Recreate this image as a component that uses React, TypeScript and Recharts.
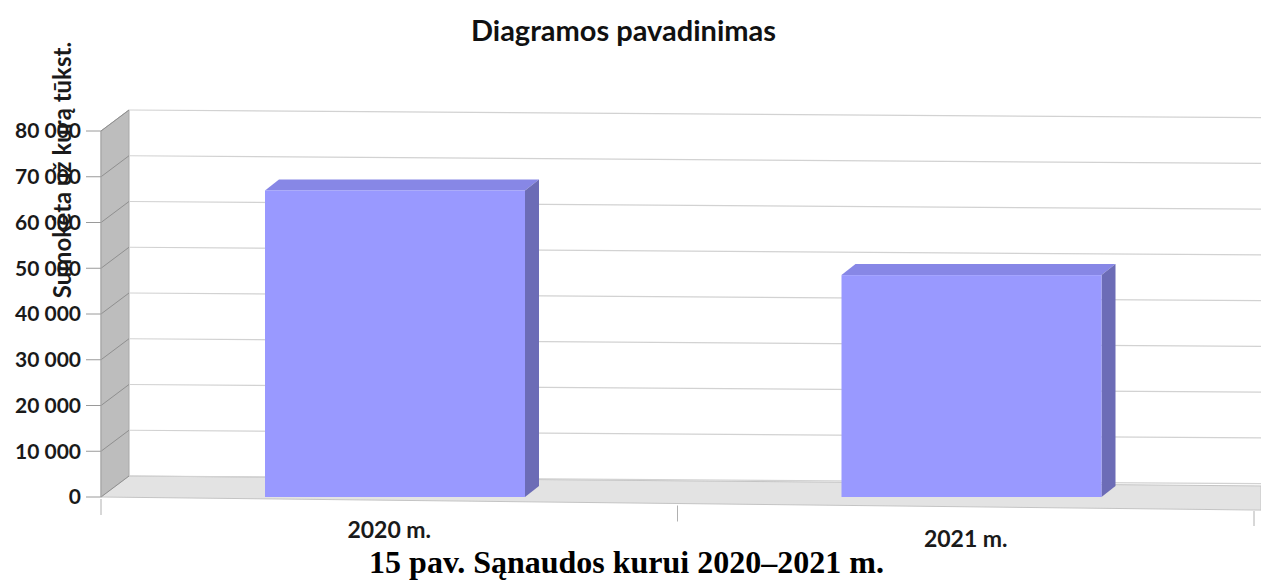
import React from 'react';
import { Bar, BarChart, ReferenceArea, ReferenceLine, XAxis, YAxis } from 'recharts';

// data
const years = ['2020 m.', '2021 m.'];
const spent = [67000, 48500];
const yTicks = [0, 10000, 20000, 30000, 40000, 50000, 60000, 70000, 80000];

const data = years.map((year, i) => ({ year, value: spent[i] }));

const W = 1261;
const H = 580;
const FONT = 'Lato, "Open Sans", sans-serif';

// pseudo-3D depth of the walls and of the bars
const WALL_DX = 28;
const WALL_DY = -21;
const BAR_DX = 14;
const BAR_DY = -11;
const BAR_SHIFT = 6; // bars stand a little into the depth
const RIGHT_EXTRA = 7;

const fmt = (v: number) => String(v).replace(/\B(?=(\d{3})+(?!\d))/g, ' ');

function Walls(props: any) {
  const { x, y, width, height } = props;
  const bottom = y + height;
  const right = x + width + RIGHT_EXTRA;
  const backBottom = bottom + WALL_DY;
  const backRightY = backBottom + 0.0088 * (right - x - WALL_DX);
  const frontRightY = bottom + 0.0113 * (right - x);
  return (
    <g>
      <polygon
        points={`${x},${y} ${x + WALL_DX},${y + WALL_DY} ${x + WALL_DX},${backBottom} ${x},${bottom}`}
        fill="#bdbdbd"
        stroke="#a9a9a9"
        strokeWidth={1}
      />
      <polygon
        points={`${x + WALL_DX},${backBottom} ${right},${backRightY} ${right},${frontRightY} ${x},${bottom}`}
        fill="#e3e3e3"
        stroke="#c4c4c4"
        strokeWidth={1}
      />
    </g>
  );
}

function GridLine(props: any) {
  const { x1, y1, x2 } = props;
  const bx = x1 + WALL_DX;
  const by = y1 + WALL_DY;
  const ex = x2 + RIGHT_EXTRA;
  return (
    <g>
      <line x1={x1} y1={y1} x2={bx} y2={by} stroke="#8f8f8f" strokeWidth={1} />
      <line x1={bx} y1={by} x2={ex} y2={by + 0.0068 * (ex - bx)} stroke="#d2d2d2" strokeWidth={1.2} />
    </g>
  );
}

function Bar3D(props: any) {
  const { y, width, height } = props;
  const x = props.x + BAR_SHIFT;
  if (!height || height <= 0) return null;
  return (
    <g>
      <polygon
        points={`${x},${y} ${x + BAR_DX},${y + BAR_DY} ${x + width + BAR_DX},${y + BAR_DY} ${x + width},${y}`}
        fill="#8787e6"
      />
      <polygon
        points={`${x + width},${y} ${x + width + BAR_DX},${y + BAR_DY} ${x + width + BAR_DX},${y + height + BAR_DY} ${x + width},${y + height}`}
        fill="#6c6cb6"
      />
      <rect x={x} y={y} width={width} height={height} fill="#9999ff" />
    </g>
  );
}

function YearTick(props: any) {
  const { x, y, payload, index } = props;
  const off = payload.offset || 0;
  const left = x - off;
  const right = x + off;
  const lift = (px: number) => 0.0113 * (px - 102);
  return (
    <g>
      <line x1={left} y1={y + lift(left) + 2} x2={left} y2={y + lift(left) + 18} stroke="#b0b0b0" />
      {index === years.length - 1 && (
        <line x1={right} y1={y + lift(right) + 1} x2={right} y2={y + lift(right) + 16} stroke="#b0b0b0" />
      )}
      <text
        x={x}
        y={y + 41 + 0.016 * (x - 390)}
        textAnchor="middle"
        fill="#1a1a1a"
        fontSize={23}
        fontWeight={700}
        fontFamily={FONT}
      >
        {payload.value}
      </text>
    </g>
  );
}

export default function App() {
  return (
    <div style={{ position: 'absolute', left: 0, top: 0, width: W, height: H, background: '#fff', overflow: 'hidden' }}>
      <div
        style={{
          position: 'absolute',
          left: -7,
          top: 14,
          width: W,
          textAlign: 'center',
          fontFamily: FONT,
          fontWeight: 700,
          fontSize: 29,
          lineHeight: '32px',
          color: '#111',
        }}
      >
        Diagramos pavadinimas
      </div>

      <BarChart
        width={W}
        height={H}
        data={data}
        margin={{ top: 131, right: RIGHT_EXTRA, bottom: 0, left: 0 }}
        style={{ position: 'absolute', left: 0, top: 0 }}
      >
        <ReferenceArea y1={0} y2={80000} shape={(p: any) => <Walls {...p} />} zIndex={50} />
        {yTicks.map((t) => (
          <ReferenceLine key={t} y={t} shape={(p: any) => <GridLine {...p} />} zIndex={150} />
        ))}
        <XAxis
          dataKey="year"
          axisLine={false}
          tickLine={false}
          tickSize={0}
          tickMargin={0}
          interval={0}
          height={83}
          tick={(p: any) => <YearTick {...p} />}
        />
        <YAxis
          width={101}
          domain={[0, 80000]}
          ticks={yTicks}
          tickFormatter={fmt}
          axisLine={{ stroke: '#a9a9a9' }}
          tickLine={{ stroke: '#9a9a9a' }}
          tickSize={15}
          tickMargin={5}
          tick={{ fill: '#1a1a1a', fontSize: 21, fontWeight: 700, fontFamily: FONT }}
        />
        <Bar dataKey="value" barSize={260} shape={(p: any) => <Bar3D {...p} />} isAnimationActive={false} />
      </BarChart>

      <div
        style={{
          position: 'absolute',
          left: 62 - 150,
          top: 170 - 13,
          width: 300,
          height: 26,
          lineHeight: '26px',
          textAlign: 'center',
          transform: 'rotate(-90deg)',
          fontFamily: FONT,
          fontWeight: 700,
          fontSize: 24,
          color: '#1a1a1a',
          whiteSpace: 'nowrap',
        }}
      >
        Sumokėta už kurą tūkst.
      </div>

      <div
        style={{
          position: 'absolute',
          left: -4,
          top: 545,
          width: W,
          textAlign: 'center',
          fontFamily: '"Liberation Serif", "Times New Roman", serif',
          fontWeight: 700,
          fontSize: 32,
          lineHeight: '34px',
          color: '#000',
        }}
      >
        15 pav. Sąnaudos kurui 2020–2021 m.
      </div>
    </div>
  );
}
